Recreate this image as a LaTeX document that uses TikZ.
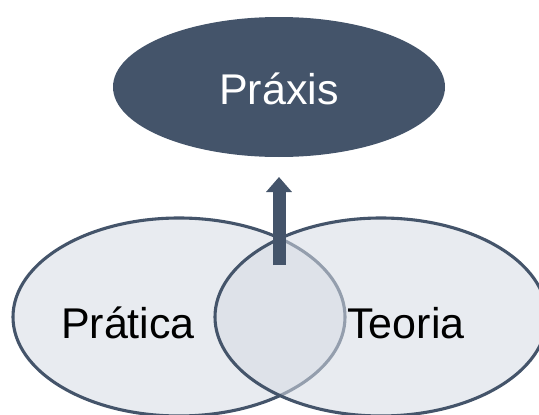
\documentclass[tikz,border=0pt]{standalone}
\usepackage{fontspec}
\setmainfont{Liberation Sans}
\usetikzlibrary{shapes.geometric,arrows.meta}
\definecolor{slate}{RGB}{68,84,106}
\definecolor{mist}{RGB}{214,220,229}
\tikzset{
  setbox/.style={ellipse, draw=slate, line width=3.1pt, fill=mist,
    fill opacity=0.55, draw opacity=1, inner sep=0pt,
    minimum width=332pt, minimum height=198pt},
  topbox/.style={ellipse, fill=slate, inner sep=0pt,
    minimum width=332pt, minimum height=140pt},
  word/.style={anchor=base, inner sep=0pt, font=\fontsize{43}{50}\selectfont},
  riser/.style={draw=slate, line width=13pt,
    -{Triangle[width=25pt,length=15pt]}}
}
\begin{document}
\begin{tikzpicture}[x=1pt,y=-1pt]
  \useasboundingbox (0,0) rectangle (539,415);
  \clip (0,0) rectangle (539,415);
  \fill[white] (0,0) rectangle (539,415);
  % the two overlapping sets
  \node[setbox] (pratica) at (179,317) {};
  \node[setbox] (teoria) at (381,317) {};
  \node[word] (tpratica) at (128,338) {Prática};
  \node[word] (tteoria) at (406,338) {Teoria};
  % the synthesis above
  \node[topbox] (praxis) at (279,87) {};
  \node[word, text=white] (tpraxis) at (279,104) {Práxis};
  % arrow rising from the overlap
  \coordinate (foot) at (279,265);
  \coordinate (tip) at (279,177);
  \draw[riser] (foot) -- (tip);
\end{tikzpicture}
\end{document}
